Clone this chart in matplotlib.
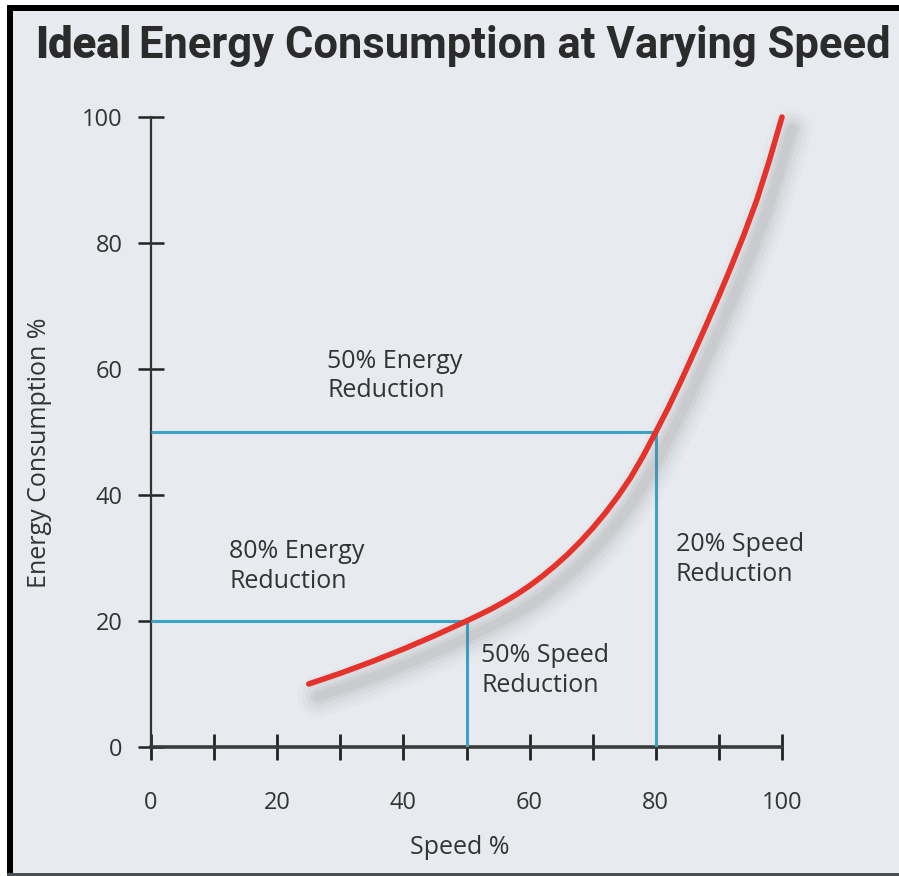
import matplotlib
matplotlib.use('Agg')
import matplotlib.pyplot as plt
import matplotlib.patheffects as pe
from matplotlib.patches import Rectangle

# curve (speed %, energy %)
speed = [25, 30, 35, 40, 45, 50, 52, 54, 56, 58, 60, 62, 64, 66, 68, 70, 72, 74, 76, 78,
         80, 82, 84, 86, 88, 90, 92, 94, 96, 98, 100]
energy = [10, 11.7, 13.55, 15.55, 17.7, 20, 20.95, 21.95, 23.05, 24.25, 25.6, 27.1, 28.75,
          30.55, 32.55, 34.75, 37.15, 39.8, 42.75, 46.2, 50, 53.9, 58.1, 62.5, 67, 71.6,
          76.4, 81.4, 86.8, 93.1, 100]

# the two marked operating points
mark_speed = [50, 80]
mark_energy = [20, 50]

x_ticks = [0, 10, 20, 30, 40, 50, 60, 70, 80, 90, 100]
x_ticklabels = ['0', '', '20', '', '40', '', '60', '', '80', '', '100']
y_ticks = [0, 20, 40, 60, 80, 100]

notes = [
    ('50% Energy\nReduction', 27.9, 58.9),
    ('80% Energy\nReduction', 12.4, 28.7),
    ('50% Speed\nReduction', 52.3, 12.2),
    ('20% Speed\nReduction', 83.2, 29.8),
]

BG = '#e7eaee'
TXT = '#333333'
BLUE = '#3aa3c6'
RED = '#e5322b'
FONT = 'Open Sans'
TITLE_FONT = ['Liberation Sans Narrow', 'Roboto', 'Open Sans']

W, H = 899, 876
fig = plt.figure(figsize=(W / 100, H / 100), dpi=100, facecolor='white')

# page background and frame
fig.patches.append(Rectangle((7 / W, 0), 1, 1 - 5 / H, transform=fig.transFigure,
                             facecolor=BG, edgecolor='none', zorder=-10))
fig.patches.append(Rectangle((7 / W, 0), 6 / W, 1 - 5 / H, transform=fig.transFigure,
                             facecolor='black', edgecolor='none', zorder=-5))
fig.patches.append(Rectangle((7 / W, 1 - 11 / H), 1, 6 / H, transform=fig.transFigure,
                             facecolor='black', edgecolor='none', zorder=-5))
fig.patches.append(Rectangle((7 / W, 0), 1, 3 / H, transform=fig.transFigure,
                             facecolor='#4a4f55', edgecolor='none', zorder=-5))

ax = fig.add_axes([151 / W, 1 - 747 / H, (782 - 151) / W, (747 - 117) / H])
ax.set_facecolor('none')
ax.set_xlim(0, 100)
ax.set_ylim(0, 100)

for s in ['top', 'right']:
    ax.spines[s].set_visible(False)
ax.spines['left'].set_color(TXT)
ax.spines['left'].set_linewidth(1.6)
ax.spines['bottom'].set_color('#3a3a3a')
ax.spines['bottom'].set_linewidth(2.6)

ax.set_xticks(x_ticks)
ax.set_xticklabels(x_ticklabels)
ax.set_yticks(y_ticks)
ax.tick_params(axis='x', direction='inout', length=19, width=2, color='#222222',
               labelsize=17, labelcolor=TXT, pad=22)
ax.tick_params(axis='y', direction='inout', length=19, width=1.8, color='#222222',
               labelsize=17, labelcolor=TXT, pad=11)
for lab in ax.get_xticklabels() + ax.get_yticklabels():
    lab.set_fontfamily(FONT)

# blue guide lines
for sx, ey in zip(mark_speed, mark_energy):
    ax.plot([0, sx], [ey, ey], color=BLUE, linewidth=2.2, solid_capstyle='butt', zorder=3)
    ax.plot([sx, sx], [0, ey], color=BLUE, linewidth=2.2, solid_capstyle='butt', zorder=3)

# red curve with soft shadow
shadow = [pe.SimpleLineShadow(offset=(7, -9), shadow_color='#777777', alpha=a, linewidth=lw)
          for lw, a in [(30, 0.03), (24, 0.04), (18, 0.05), (12, 0.07), (7, 0.08)]]
ax.plot(speed, energy, color=RED, linewidth=4, solid_capstyle='round',
        solid_joinstyle='round', zorder=5, clip_on=False,
        path_effects=shadow + [pe.Normal()])

for txt, x, y in notes:
    ax.text(x, y, txt, fontsize=18, color=TXT, family=FONT, ha='left', va='center',
            linespacing=1.25, zorder=6)

ax.set_xlabel('Speed %', fontsize=18, color=TXT, family=FONT)
ax.set_ylabel('Energy Consumption %', fontsize=18, color=TXT, family=FONT)
ax.xaxis.set_label_coords(0.49, -0.14)
ax.yaxis.set_label_coords(-0.157, 0.467)

# title: "Ideal" heavier, rest bold, fitted between x=35 and x=890
r = fig.canvas.get_renderer()
size = 30
t1 = fig.text(35 / W, 1 - 46 / H, 'Ideal', fontsize=size, fontweight='heavy',
              family=TITLE_FONT, color='#2b2b2b', va='center', ha='left')
t2 = fig.text(0, 1 - 46 / H, 'Energy Consumption at Varying Speed', fontsize=size,
              fontweight='bold', family=TITLE_FONT, color='#2b2b2b', va='center', ha='left')
w1 = t1.get_window_extent(r).width
w2 = t2.get_window_extent(r).width
gap = 8
scale = (890 - 35 - gap) / (w1 + w2)
size = size * scale
t1.set_fontsize(size)
t2.set_fontsize(size)
w1 = t1.get_window_extent(r).width
t2.set_x((35 + w1 + gap) / W)

fig.savefig('out.png', dpi=100, facecolor=fig.get_facecolor())
